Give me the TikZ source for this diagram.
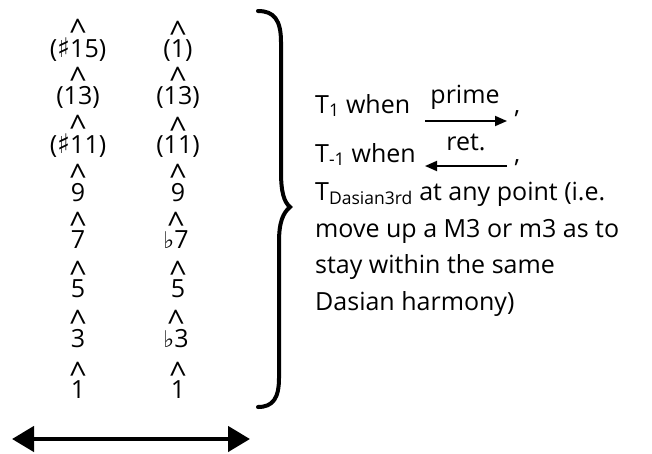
\documentclass[tikz,border=0pt]{standalone}
\usepackage{fontspec}
\setmainfont{Open Sans}
\newfontfamily\accfont{DejaVu Sans}
\usetikzlibrary{arrows.meta}
\newcommand{\sh}{{\accfont\fontsize{27}{27}\selectfont ♯}}
\newcommand{\fl}{{\accfont\fontsize{23}{23}\selectfont ♭}}
\newcommand{\dg}[1]{\shortstack{{\fontsize{31}{31}\selectfont\char"5E}\\[-7pt]#1}}
\tikzstyle{Degree}=[anchor=base,inner sep=0pt,font=\fontsize{25}{25}\selectfont]
\tikzstyle{Words}=[anchor=base west,inner sep=0pt,font=\fontsize{25}{25}\selectfont]
\tikzstyle{Over}=[anchor=base,inner sep=0pt,font=\fontsize{25}{25}\selectfont]
\tikzstyle{SmallArrow}=[line width=1.8pt,-{Triangle[length=12pt,width=10pt]}]
\tikzstyle{BigArrow}=[line width=4.5pt,{Triangle[length=22pt,width=25pt]}-{Triangle[length=22pt,width=25pt]}]
\begin{document}
\begin{tikzpicture}[x=1pt,y=-1pt]
        \useasboundingbox (0,0) rectangle (652,453);
        % left column
        \node[Degree](a15)at(78,57){\dg{(\sh15)}};
        \node[Degree](a13)at(78,104){\dg{(13)}};
        \node[Degree](a11)at(78,153){\dg{(\sh11)}};
        \node[Degree](a9)at(78,201){\dg{9}};
        \node[Degree](a7)at(78,248){\dg{7}};
        \node[Degree](a5)at(78,297){\dg{5}};
        \node[Degree](a3)at(78,347){\dg{3}};
        \node[Degree](a1)at(78,398){\dg{1}};
        % right column
        \node[Degree](b1)at(178,57){\dg{(1)}};
        \node[Degree](b13)at(178,104){\dg{(13)}};
        \node[Degree](b11)at(178,153){\dg{(11)}};
        \node[Degree](b9)at(178,201){\dg{9}};
        \node[Degree](b7)at(176,248){\dg{\fl7}};
        \node[Degree](b5)at(178,297){\dg{5}};
        \node[Degree](b3)at(176,347){\dg{\fl3}};
        \node[Degree](b0)at(178,398){\dg{1}};
        % double arrow
        \coordinate(left)at(12,439);
        \coordinate(right)at(250,439);
        \draw[BigArrow](left)--(right);
        % brace
        \draw[line width=4pt,line cap=round](258,11) .. controls (274,11) and (281,20) .. (281,42)
            -- (281,172) .. controls (281,192) and (284,202) .. (290,207)
            .. controls (283,213) and (279,222) .. (279,242)
            -- (279,378) .. controls (279,398) and (273,407) .. (258,407);
        % text
        \node[Words](t1)at(315,113){T\textsubscript{1} when};
        \node[Over](prime)at(465,103){prime};
        \coordinate(p1)at(425,121);
        \coordinate(p2)at(507,121);
        \draw[SmallArrow](p1)--(p2);
        \node[Words](c1)at(514,113){,};
        \node[Words](t2)at(315,162){T\textsubscript{-1} when};
        \node[Over](ret)at(466,150){ret.};
        \coordinate(r1)at(507,166);
        \coordinate(r2)at(425,166);
        \draw[SmallArrow](r1)--(r2);
        \node[Words](c2)at(514,162){,};
        \node[Words](t3)at(315,200){T\textsubscript{Dasian3rd} at any point (i.e.};
        \node[Words](t4)at(315,237){move up a M3 or m3 as to};
        \node[Words](t5)at(315,273){stay within the same};
        \node[Words](t6)at(315,310){Dasian harmony)};
    \end{tikzpicture}
\end{document}
